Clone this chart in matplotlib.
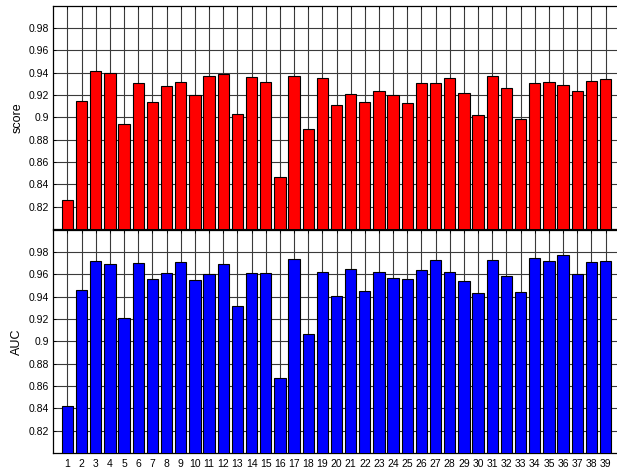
import numpy as np
import matplotlib
matplotlib.use('Agg')
import matplotlib.pyplot as plt

plt.rcParams['font.family'] = ['Liberation Sans', 'DejaVu Sans']

runs = list(range(1, 40))
score = [0.826, 0.915, 0.942, 0.940, 0.894, 0.931, 0.914, 0.928, 0.932, 0.920,
         0.937, 0.939, 0.903, 0.936, 0.932, 0.847, 0.937, 0.890, 0.935, 0.911,
         0.921, 0.914, 0.924, 0.920, 0.913, 0.931, 0.931, 0.935, 0.922, 0.902,
         0.937, 0.926, 0.899, 0.931, 0.932, 0.929, 0.924, 0.933, 0.934]
auc = [0.842, 0.946, 0.972, 0.969, 0.921, 0.970, 0.956, 0.961, 0.971, 0.955,
       0.960, 0.969, 0.932, 0.961, 0.961, 0.867, 0.974, 0.907, 0.962, 0.941,
       0.965, 0.945, 0.962, 0.957, 0.956, 0.964, 0.973, 0.962, 0.954, 0.943,
       0.973, 0.959, 0.944, 0.975, 0.972, 0.977, 0.960, 0.971, 0.972]
yticks = [0.82, 0.84, 0.86, 0.88, 0.9, 0.92, 0.94, 0.96, 0.98]
ytick_labels = ['0.82', '0.84', '0.86', '0.88', '0.9', '0.92', '0.94', '0.96', '0.98']

fig = plt.figure(figsize=(6.17, 4.67), dpi=100)
ax1 = fig.add_axes([0.0864, 0.5096, 0.918, 0.478])
ax2 = fig.add_axes([0.0864, 0.030, 0.918, 0.478])

for ax, vals, col, lab in [(ax1, score, '#ff0000', 'score'), (ax2, auc, '#0000ff', 'AUC')]:
    ax.set_axisbelow(True)
    ax.bar(runs, vals, width=0.8, color=col, edgecolor='black', linewidth=0.8, zorder=3)
    ax.set_xlim(0, 40)
    ax.set_ylim(0.8, 1.0)
    ax.set_xticks(runs)
    ax.set_yticks(yticks)
    ax.set_yticklabels(ytick_labels)
    ax.grid(True, color='#3a3a3a', linewidth=0.8, linestyle='-')
    ax.tick_params(direction='in', length=2.5, width=0.6, top=True, right=True,
                   labelsize=7.5, pad=3)
    ax.set_ylabel(lab, fontsize=9, labelpad=4)
    for s in ax.spines.values():
        s.set_linewidth(0.9)
        s.set_color('black')

ax1.set_xticklabels([])
ax2.set_xticklabels([str(r) for r in runs])
ax2.tick_params(axis='x', pad=4)

fig.savefig('out.png', dpi=100)
